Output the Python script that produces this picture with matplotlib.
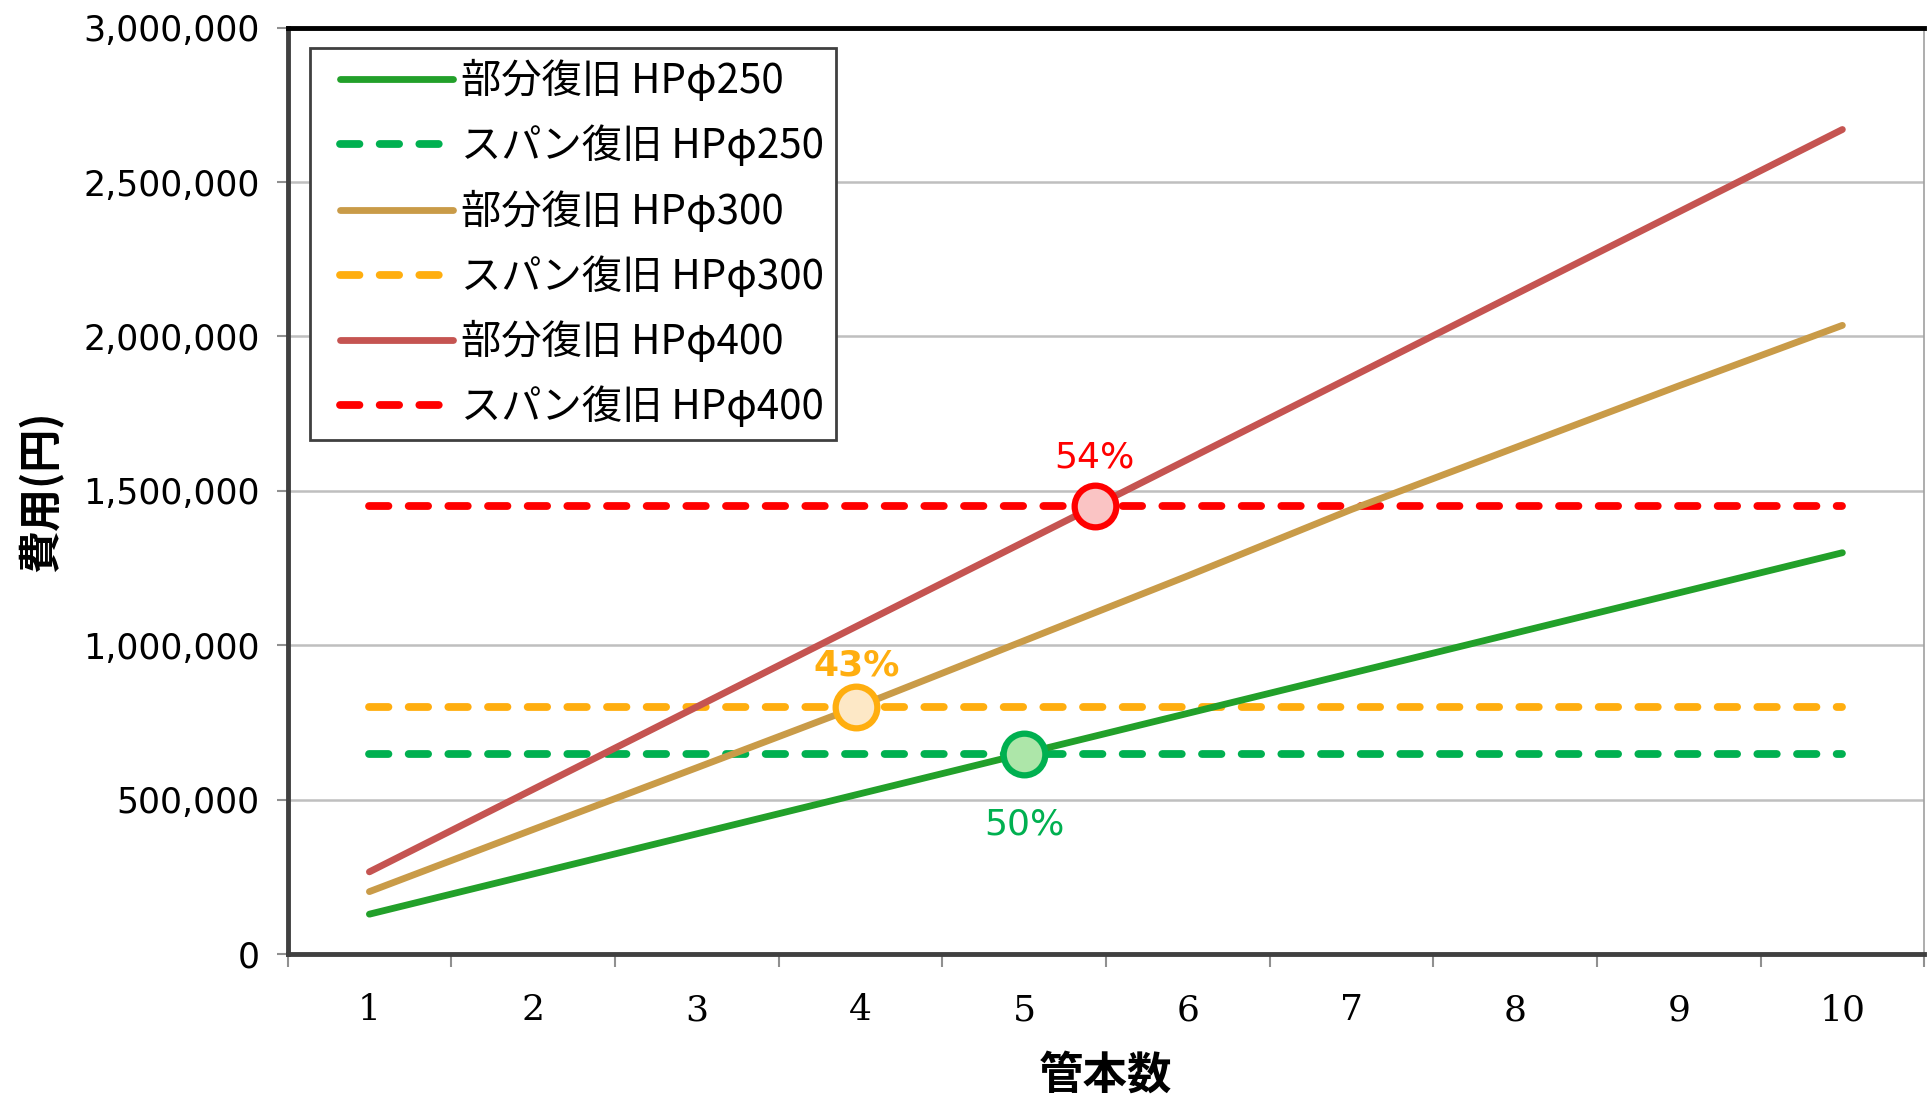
import numpy as np
import matplotlib
matplotlib.use("Agg")
import matplotlib.pyplot as plt
from matplotlib.ticker import FuncFormatter, FixedLocator
from matplotlib.legend_handler import HandlerLine2D

plt.rcParams['font.family'] = ['Noto Sans CJK JP', 'DejaVu Sans']

# data (円)
pipes = [1, 2, 3, 4, 5, 6, 7, 8, 9, 10]
partial_250 = [130000, 260000, 390000, 520000, 650000, 780000, 910000, 1040000, 1170000, 1300000]
span_250 = [650000] * 10
partial_300 = [203000, 404000, 604000, 805000, 1015000, 1225000, 1440000, 1640000, 1840000, 2036000]
span_300 = [800000] * 10
partial_400 = [267000, 534000, 801000, 1068000, 1335000, 1602000, 1869000, 2136000, 2403000, 2670000]
span_400 = [1450000] * 10
pct_labels = ["50%", "43%", "54%"]

labels = ["部分復旧 HPφ250", "スパン復旧 HPφ250",
          "部分復旧 HPφ300", "スパン復旧 HPφ300",
          "部分復旧 HPφ400", "スパン復旧 HPφ400"]


class ShiftedLine(HandlerLine2D):
    # legend line starts a bit right of the handle box, like Excel
    def create_artists(self, legend, orig_handle, xdescent, ydescent, width, height, fontsize, trans):
        shift = 0.46 * fontsize
        return super().create_artists(legend, orig_handle, xdescent - shift, ydescent,
                                      width - shift, height, fontsize, trans)


fig = plt.figure(figsize=(19.3, 11.02), dpi=100)
ax = fig.add_axes([0.149, 0.134, 0.848, 0.841])

solid_kw = dict(lw=4.9, solid_capstyle='round', solid_joinstyle='round')
dash_kw = dict(lw=5.6, dashes=(2.5, 2.6), dash_capstyle='round')

ax.plot(pipes, partial_250, color='#22a02a', label=labels[0], zorder=4, **solid_kw)
ax.plot(pipes, span_250, color='#00b050', label=labels[1], zorder=3, **dash_kw)
ax.plot(pipes, partial_300, color='#c99b48', label=labels[2], zorder=4, **solid_kw)
ax.plot(pipes, span_300, color='#ffae0f', label=labels[3], zorder=3, **dash_kw)
ax.plot(pipes, partial_400, color='#c55451', label=labels[4], zorder=4, **solid_kw)
ax.plot(pipes, span_400, color='#ff0000', label=labels[5], zorder=3, **dash_kw)

# break-even markers
pairs = [(partial_250, span_250), (partial_300, span_300), (partial_400, span_400)]
edge_cols = ['#00b050', '#ffae0f', '#ff0000']
face_cols = ['#ade6a9', '#fde8c6', '#fac4c4']
txt_cols = ['#00b050', '#ffae0f', '#ff0000']
txt_off = [-51, 30, 35]
txt_weight = ['normal', 'bold', 'normal']
for (part, span), ec, fc, tc, off, w, lab in zip(pairs, edge_cols, face_cols, txt_cols, txt_off, txt_weight, pct_labels):
    bx = np.interp(span[0], part, pipes)
    ax.plot([bx], [span[0]], 'o', ms=30, mfc=fc, mec=ec, mew=4.5, zorder=6)
    ax.annotate(lab, (bx, span[0]), xytext=(0, off), textcoords='offset points',
                ha='center', va='center', color=tc, fontsize=26, fontweight=w,
                family=['DejaVu Sans'], zorder=7)

ax.set_xlim(0.5, 10.5)
ax.set_ylim(0, 3000000)
ax.set_yticks(np.arange(0, 3000001, 500000))
ax.yaxis.set_major_formatter(FuncFormatter(lambda v, p: f"{int(v):,}"))
ax.grid(axis='y', color='#bfbfbf', lw=1.8, zorder=0)
ax.set_axisbelow(True)

ax.set_xticks(pipes)
ax.xaxis.set_minor_locator(FixedLocator(np.arange(0.5, 11, 1)))
ax.tick_params(axis='x', which='major', length=0, pad=28, labelsize=26)
ax.tick_params(axis='x', which='minor', length=9, width=1.5, color='#909090')
ax.tick_params(axis='y', length=8, width=1.5, color='#909090', labelsize=25, pad=12)
for t in ax.get_xticklabels():
    t.set_family(['DejaVu Serif'])
for t in ax.get_yticklabels():
    t.set_family(['DejaVu Sans'])

for s in ['left', 'bottom']:
    ax.spines[s].set_linewidth(3.5)
    ax.spines[s].set_color('#404040')
ax.spines['top'].set_linewidth(3.5)
ax.spines['top'].set_color('black')
ax.spines['right'].set_linewidth(1.2)
ax.spines['right'].set_color('#a0a0a0')

ax.set_ylabel("費用(円)", fontsize=31, fontweight='bold', labelpad=14)
ax.set_xlabel("管本数", fontsize=32, fontweight='bold', labelpad=18)

leg = ax.legend(loc='upper left', bbox_to_anchor=(0.0134, 0.978), borderaxespad=0,
                fontsize=29, handlelength=3.27, labelspacing=0.58, handletextpad=0.2,
                borderpad=0.3, fancybox=False, framealpha=1,
                handler_map={plt.Line2D: ShiftedLine()})
leg.get_frame().set_edgecolor('#404040')
leg.get_frame().set_linewidth(2)

fig.savefig("out.png", dpi=100)
